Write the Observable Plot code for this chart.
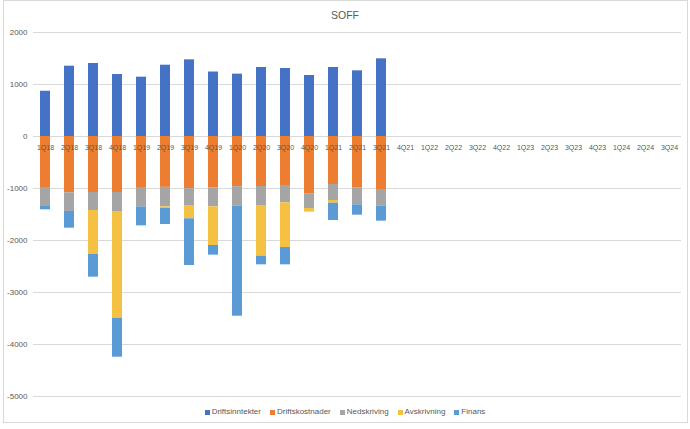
<!DOCTYPE html>
<html>
<head>
<meta charset="utf-8">
<script src="https://cdn.jsdelivr.net/npm/d3@7"></script>
<script src="https://cdn.jsdelivr.net/npm/@observablehq/plot@0.6"></script>
<style>
  html, body { margin: 0; padding: 0; background: #ffffff; }
  #wrap { position: relative; width: 690px; height: 429px; overflow: hidden; font-family: "Liberation Sans", Arial, sans-serif; }
  #frame { position: absolute; left: 3px; top: 0px; width: 685px; height: 423px; border: 1px solid #D9D9D9; box-sizing: border-box; }
  #title { position: absolute; top: 8px; left: 0; width: 690px; text-align: center; font-size: 10.5px; color: #595959; line-height: 14px; }
  #chart { position: absolute; top: 24px; left: 0; }
  #legend { position: absolute; top: 406px; left: 0; width: 690px; display: flex; justify-content: center; gap: 9px; font-size: 8px; color: #595959; line-height: 12px; }
  .item { display: flex; align-items: center; }
  .sw { width: 5px; height: 5px; margin-right: 2px; display: inline-block; }
</style>
</head>
<body>
<div id="wrap">
  <div id="frame"></div>
  <div id="title">SOFF</div>
  <div id="chart"></div>
  <div id="legend"></div>
</div>
<script>
const quarters = ["1Q18","2Q18","3Q18","4Q18","1Q19","2Q19","3Q19","4Q19","1Q20","2Q20","3Q20","4Q20",
  "1Q21","2Q21","3Q21","4Q21","1Q22","2Q22","3Q22","4Q22","1Q23","2Q23","3Q23","4Q23","1Q24","2Q24","3Q24"];
const seriesNames = ["Driftsinntekter","Driftskostnader","Nedskriving","Avskrivning","Finans"];
const seriesColors = ["#4472C4","#ED7D31","#A5A5A5","#F5C142","#5B9BD5"];
const driftsinntekter = [870,1352,1404,1192,1141,1371,1474,1240,1199,1327,1308,1173,1327,1263,1494];
const driftskostnader = [-981,-1083,-1077,-1077,-981,-978,-1003,-992,-965,-962,-942,-1100,-923,-994,-1019];
const nedskriving = [-365,-359,-346,-378,-372,-375,-337,-361,-375,-378,-334,-285,-308,-320,-321];
const avskrivning = [0,0,-846,-2039,0,-30,-243,-743,0,-962,-859,-70,-51,0,0];
const finans = [-64,-321,-436,-750,-365,-310,-898,-186,-2116,-166,-333,0,-333,-199,-288];
const yTicks = [2000,1000,0,-1000,-2000,-3000,-4000,-5000];

const seriesValues = [driftsinntekter, driftskostnader, nedskriving, avskrivning, finans];
const rows = [];
seriesNames.forEach((s, i) => {
  seriesValues[i].forEach((v, j) => rows.push({quarter: quarters[j], series: s, value: v}));
});

const chart = Plot.plot({
  width: 690,
  height: 380,
  marginTop: 8,
  marginBottom: 8,
  marginLeft: 33,
  marginRight: 9,
  style: {fontFamily: "Liberation Sans, Arial, sans-serif", background: "transparent", color: "#595959"},
  x: {domain: quarters, paddingInner: 0.58, paddingOuter: 0.29, axis: null},
  y: {domain: [-5000, 2000], axis: null, label: null},
  color: {domain: seriesNames, range: seriesColors},
  marks: [
    Plot.ruleY(yTicks, {stroke: "#D9D9D9", strokeWidth: 1}),
    Plot.barY(rows, {x: "quarter", y: "value", fill: "series", order: seriesNames}),
    Plot.axisY({ticks: yTicks, tickSize: 0, tickPadding: 6, tickFormat: d => String(d), fontSize: 8, fill: "#595959", label: null}),
    Plot.text(quarters, {x: d => d, y: () => 0, dy: 11, fontSize: 7, fill: "#595959"})
  ]
});
document.getElementById("chart").appendChild(chart);

const legend = document.getElementById("legend");
seriesNames.forEach((s, i) => {
  const item = document.createElement("div");
  item.className = "item";
  const sw = document.createElement("span");
  sw.className = "sw";
  sw.style.background = seriesColors[i];
  const t = document.createElement("span");
  t.textContent = s;
  item.appendChild(sw);
  item.appendChild(t);
  legend.appendChild(item);
});
</script>
</body>
</html>
